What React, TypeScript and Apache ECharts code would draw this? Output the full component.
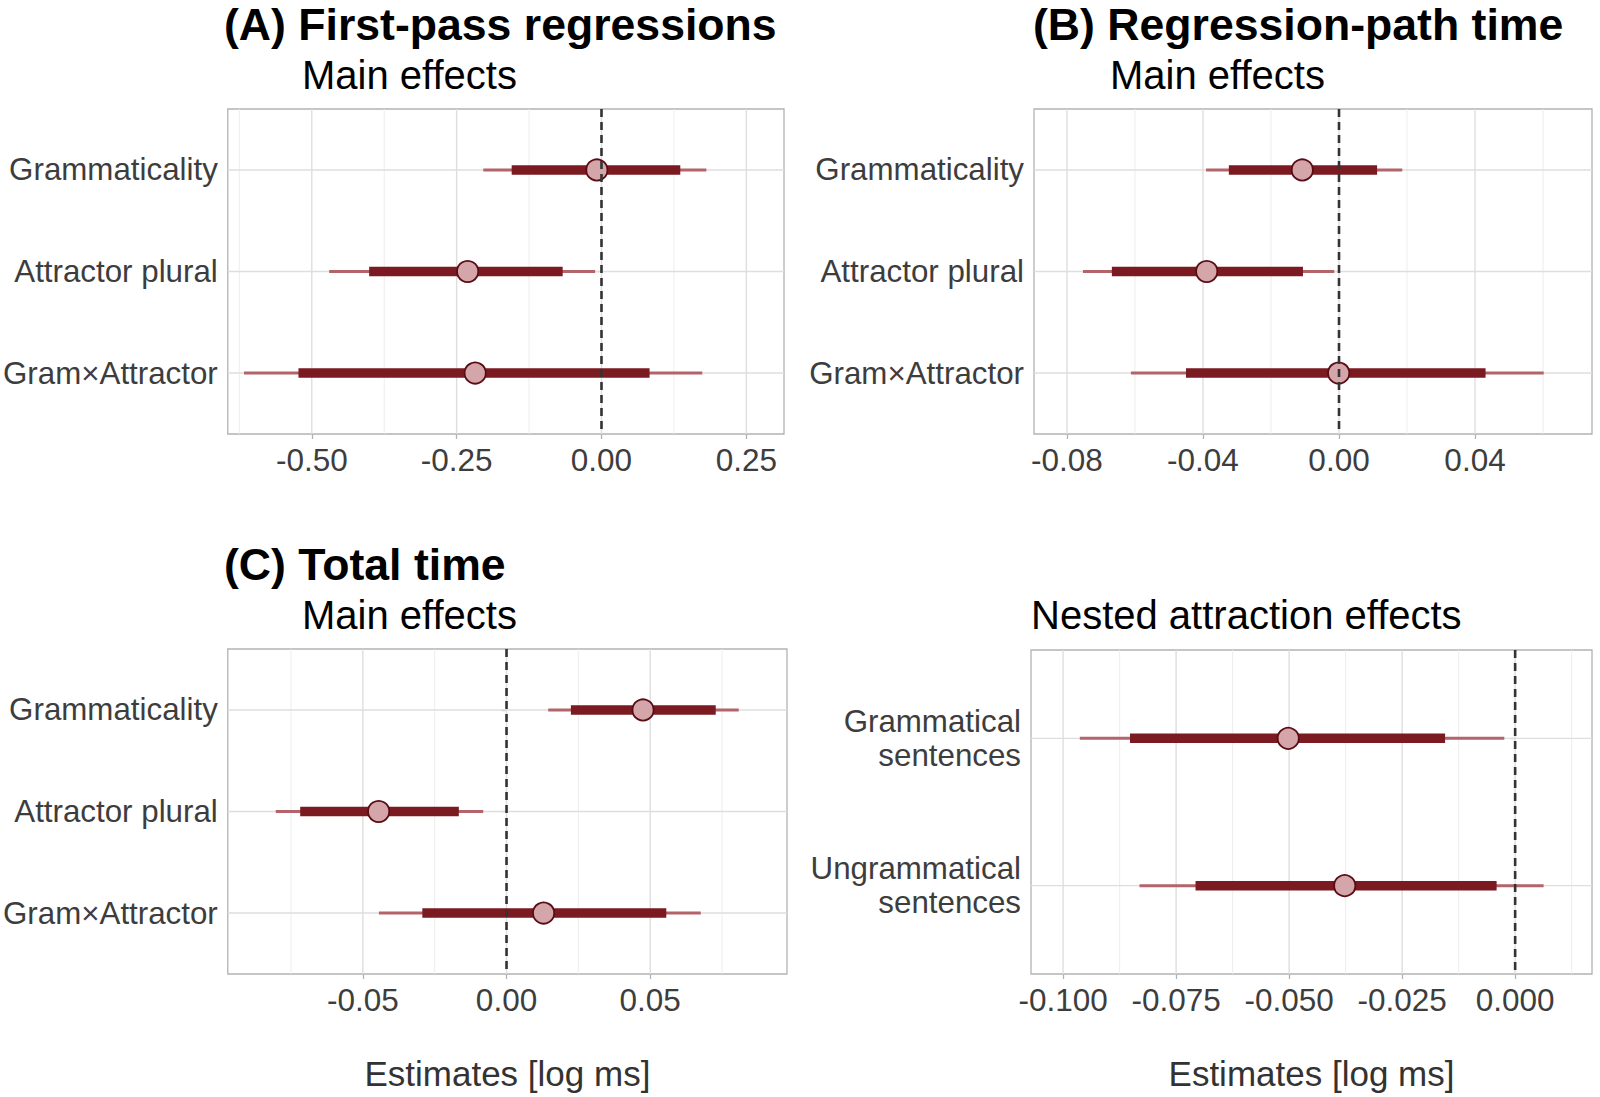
import React, { useEffect, useRef } from "react";
import * as echarts from "echarts";

// ---------- data ----------
// each row: [lower 95%, lower 50%, estimate, upper 50%, upper 95%]
const mainLabels = ["Grammaticality", "Attractor plural", "Gram×Attractor"];
const nestedLabels = ["Grammatical\nsentences", "Ungrammatical\nsentences"];

// (A) First-pass regressions
const fprGram = [-0.204, -0.155, -0.008, 0.136, 0.181];
const fprAttr = [-0.470, -0.401, -0.231, -0.067, -0.011];
const fprInter = [-0.617, -0.523, -0.218, 0.083, 0.174];
const fprTicks = [-0.5, -0.25, 0, 0.25];
const fprMinor = [-0.625, -0.375, -0.125, 0.125];
const fprRange = [-0.645, 0.315];

// (B) Regression-path time
const rptGram = [-0.0391, -0.0324, -0.0108, 0.0112, 0.0186];
const rptAttr = [-0.0753, -0.0668, -0.0389, -0.0106, -0.0014];
const rptInter = [-0.0612, -0.045, -0.0001, 0.0431, 0.0602];
const rptTicks = [-0.08, -0.04, 0, 0.04];
const rptMinor = [-0.06, -0.02, 0.02, 0.06];
const rptRange = [-0.0897, 0.0744];

// (C) Total time
const ttGram = [0.0145, 0.0224, 0.0475, 0.0728, 0.0808];
const ttAttr = [-0.0803, -0.0718, -0.0445, -0.0166, -0.0081];
const ttInter = [-0.0444, -0.0293, 0.0129, 0.0556, 0.0676];
const ttTicks = [-0.05, 0, 0.05];
const ttMinor = [-0.075, -0.025, 0.025, 0.075];
const ttRange = [-0.097, 0.0976];

// Nested attraction effects
const nestGram = [-0.0963, -0.0852, -0.0502, -0.0155, -0.0024];
const nestUngram = [-0.0831, -0.0707, -0.0377, -0.0041, 0.0063];
const nestTicks = [-0.1, -0.075, -0.05, -0.025, 0];
const nestMinor = [-0.0875, -0.0625, -0.0375, -0.0125, 0.0125];
const nestRange = [-0.1071, 0.017];

const xTitle = "Estimates [log ms]";

// ---------- styles ----------
const FONT = "Liberation Sans";
const THICK = "#7b1a20";
const THIN = "#b3646b";
const PT_FILL = "#d4a6a9";
const PT_STROKE = "#5a0c14";
const AXIS_TEXT = "#3d3d3d";
const BORDER = "#b3b3b3";
const GRID_MAJOR = "#dedede";
const GRID_MINOR = "#ebebeb";

type Panel = {
  rows: number[][];
  labels: string[];
  ticks: number[];
  minor: number[];
  range: number[];
  digits: number;
  box: { left: number; top: number; width: number; height: number };
  name: string;
};

const panels: Panel[] = [
  {
    rows: [fprGram, fprAttr, fprInter],
    labels: mainLabels,
    ticks: fprTicks,
    minor: fprMinor,
    range: fprRange,
    digits: 2,
    box: { left: 226, top: 109, width: 558, height: 325 },
    name: "",
  },
  {
    rows: [rptGram, rptAttr, rptInter],
    labels: mainLabels,
    ticks: rptTicks,
    minor: rptMinor,
    range: rptRange,
    digits: 2,
    box: { left: 1034, top: 109, width: 558, height: 325 },
    name: "",
  },
  {
    rows: [ttGram, ttAttr, ttInter],
    labels: mainLabels,
    ticks: ttTicks,
    minor: ttMinor,
    range: ttRange,
    digits: 2,
    box: { left: 226, top: 649, width: 561, height: 325 },
    name: xTitle,
  },
  {
    rows: [nestGram, nestUngram],
    labels: nestedLabels,
    ticks: nestTicks,
    minor: nestMinor,
    range: nestRange,
    digits: 3,
    box: { left: 1031, top: 650, width: 561, height: 324 },
    name: xTitle,
  },
];

function buildOption() {
  const grid: any[] = [];
  const xAxis: any[] = [];
  const yAxis: any[] = [];
  const series: any[] = [];

  panels.forEach((p, i) => {
    const cats = p.labels.map((_, k) => k + 1);
    grid.push({
      left: p.box.left,
      top: p.box.top,
      width: p.box.width,
      height: p.box.height,
      show: true,
      borderColor: BORDER,
      borderWidth: 1.3,
      backgroundColor: "transparent",
    });
    xAxis.push({
      gridIndex: i,
      type: "value",
      min: p.range[0],
      max: p.range[1],
      axisLine: { show: false },
      splitLine: { show: false },
      axisTick: {
        show: true,
        customValues: p.ticks,
        length: 5,
        lineStyle: { color: BORDER, width: 1.3 },
      },
      axisLabel: {
        customValues: p.ticks,
        formatter: (v: number) => Number(v).toFixed(p.digits),
        fontSize: 31.5,
        fontFamily: FONT,
        color: AXIS_TEXT,
        margin: 10,
      },
      name: p.name,
      nameLocation: "middle",
      nameGap: 82,
      nameTextStyle: { fontSize: 35, fontFamily: FONT, color: "#333333" },
    });
    yAxis.push({
      gridIndex: i,
      type: "value",
      inverse: true,
      min: 0.4,
      max: p.labels.length + 0.6,
      axisLine: { show: false },
      splitLine: { show: false },
      axisTick: {
        show: true,
        customValues: cats,
        length: 5,
        lineStyle: { color: BORDER, width: 1.3 },
      },
      axisLabel: {
        customValues: cats,
        formatter: (v: number) => p.labels[Math.round(v) - 1] ?? "",
        fontSize: 31.3,
        fontFamily: FONT,
        color: AXIS_TEXT,
        margin: 10,
        lineHeight: 34,
        align: "right",
      },
    });

    // grid lines
    series.push({
      type: "custom",
      xAxisIndex: i,
      yAxisIndex: i,
      silent: true,
      z: 1,
      data: [[p.range[0], 1]],
      encode: { x: 0, y: 1 },
      renderItem: (params: any, api: any) => {
        const cs = params.coordSys;
        const children: any[] = [];
        p.minor.forEach((v) => {
          const x = api.coord([v, 1])[0];
          children.push({
            type: "line",
            shape: { x1: x, y1: cs.y, x2: x, y2: cs.y + cs.height },
            style: { stroke: GRID_MINOR, lineWidth: 0.9 },
          });
        });
        p.ticks.forEach((v) => {
          const x = api.coord([v, 1])[0];
          children.push({
            type: "line",
            shape: { x1: x, y1: cs.y, x2: x, y2: cs.y + cs.height },
            style: { stroke: GRID_MAJOR, lineWidth: 1.4 },
          });
        });
        cats.forEach((c) => {
          const y = api.coord([p.range[0], c])[1];
          children.push({
            type: "line",
            shape: { x1: cs.x, y1: y, x2: cs.x + cs.width, y2: y },
            style: { stroke: GRID_MAJOR, lineWidth: 1.4 },
          });
        });
        return { type: "group", children };
      },
    });

    // intervals and estimates
    series.push({
      type: "custom",
      xAxisIndex: i,
      yAxisIndex: i,
      z: 2,
      data: p.rows.map((r, k) => [k + 1, ...r]),
      encode: { x: [1, 2, 3, 4, 5], y: 0 },
      renderItem: (params: any, api: any) => {
        const y = api.value(0);
        const pt = (k: number) => api.coord([api.value(k), y]);
        const a = pt(1), b = pt(2), c = pt(3), d = pt(4), e = pt(5);
        return {
          type: "group",
          children: [
            {
              type: "line",
              shape: { x1: a[0], y1: a[1], x2: e[0], y2: e[1] },
              style: { stroke: THIN, lineWidth: 3 },
            },
            {
              type: "line",
              shape: { x1: b[0], y1: b[1], x2: d[0], y2: d[1] },
              style: { stroke: THICK, lineWidth: 9.5 },
            },
            {
              type: "circle",
              shape: { cx: c[0], cy: c[1], r: 10.6 },
              style: { fill: PT_FILL, stroke: PT_STROKE, lineWidth: 1.8 },
            },
          ],
        };
      },
    });

    // zero reference line
    series.push({
      type: "custom",
      xAxisIndex: i,
      yAxisIndex: i,
      silent: true,
      z: 3,
      data: [[0, 1]],
      encode: { x: 0, y: 1 },
      renderItem: (params: any, api: any) => {
        const cs = params.coordSys;
        const x = api.coord([api.value(0), 1])[0];
        return {
          type: "line",
          shape: { x1: x, y1: cs.y, x2: x, y2: cs.y + cs.height },
          style: { stroke: "#333333", lineWidth: 2.6, lineDash: [8, 5] },
        };
      },
    });
  });

  const titleText = (text: string, x: number, y: number, bold: boolean, size: number) => ({
    type: "text",
    x,
    y,
    silent: true,
    style: {
      text,
      fontSize: size,
      fontWeight: bold ? "bold" : "normal",
      fontFamily: FONT,
      fill: "#000000",
      align: "left",
      verticalAlign: "middle",
    },
  });

  return {
    animation: false,
    backgroundColor: "#ffffff",
    textStyle: { fontFamily: FONT },
    grid,
    xAxis,
    yAxis,
    series,
    graphic: [
      titleText("(A) First-pass regressions", 224, 24, true, 44.6),
      titleText("Main effects", 302, 75, false, 40),
      titleText("(B) Regression-path time", 1033, 24, true, 44.6),
      titleText("Main effects", 1110, 75, false, 40),
      titleText("(C) Total time", 224, 564, true, 44.6),
      titleText("Main effects", 302, 615, false, 40),
      titleText("Nested attraction effects", 1031, 615, false, 40),
    ],
  };
}

export default function App() {
  const ref = useRef<HTMLDivElement>(null);
  useEffect(() => {
    if (!ref.current) return;
    const chart = echarts.init(ref.current, null, { renderer: "svg" });
    chart.setOption(buildOption() as any);
    return () => chart.dispose();
  }, []);
  return (
    <div
      ref={ref}
      style={{ position: "fixed", left: 0, top: 0, width: 1600, height: 1097, background: "#fff" }}
    />
  );
}
